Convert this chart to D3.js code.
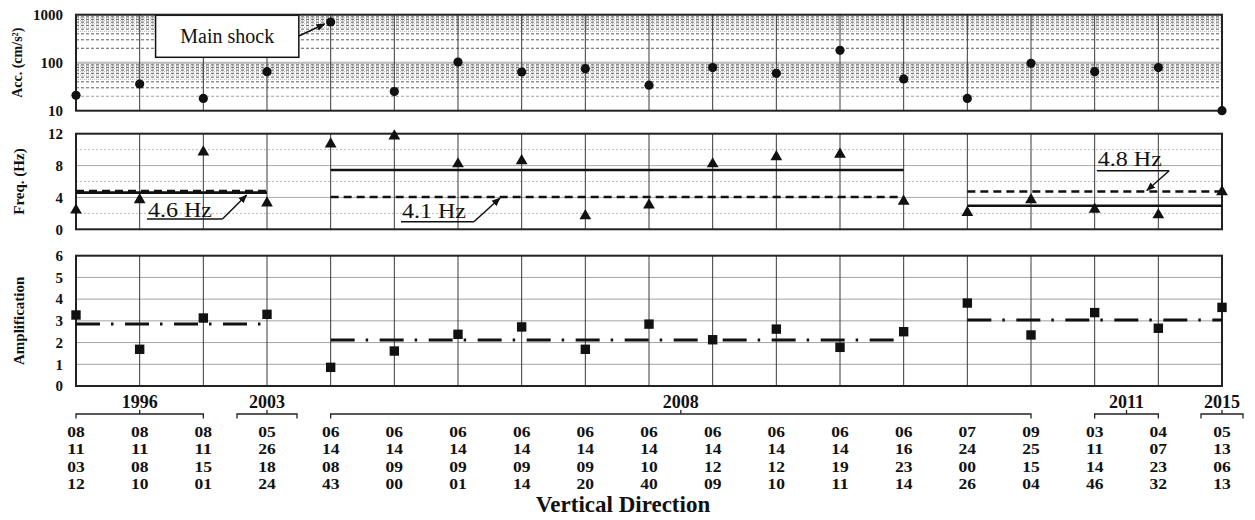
<!DOCTYPE html>
<html lang="en">
<head>
<meta charset="UTF-8">
<title>Vertical Direction</title>
<script src="https://d3js.org/d3.v7.min.js"></script>
<style>
    body { margin: 0; background: #fff; }
    svg text { font-family: "Liberation Serif", "Times New Roman", serif; fill: #111; }
    .tick text { font-weight: bold; font-size: 15px; }
    .axis-title { font-weight: bold; font-size: 15px; }
</style>
</head>
<body>
<div id="chart"></div>
<script>
// event time stamps (month / day / hour / minute)
const months  = ["08","08","08","05","06","06","06","06","06","06","06","06","06","06","07","09","03","04","05"];
const days    = ["11","11","11","26","14","14","14","14","14","14","14","14","14","16","24","25","11","07","13"];
const hours   = ["03","08","15","18","08","09","09","09","09","10","12","12","19","23","00","15","14","23","06"];
const minutes = ["12","10","01","24","43","00","01","14","20","40","09","10","11","14","26","04","46","32","13"];

// year brackets (first / last event index)
const yearLabels = ["1996", "2003", "2008", "2011", "2015"];
const yearFrom   = [0, 3, 4, 16, 18];
const yearTo     = [2, 3, 15, 17, 18];

// peak acceleration (cm/s2)
const acc  = [21, 36, 18, 65, 705, 25, 103, 64, 75, 34, 79, 60, 181, 46, 18, 97, 65, 79, 10];
// predominant frequency (Hz)
const freq = [2.4, 3.7, 9.7, 3.3, 10.7, 11.7, 8.2, 8.6, 1.7, 3.05, 8.2, 9.1, 9.4, 3.5, 2.1, 3.7, 2.5, 1.8, 4.7];
// amplification
const amp  = [3.27, 1.69, 3.13, 3.3, 0.86, 1.61, 2.38, 2.72, 1.69, 2.85, 2.13, 2.62, 1.78, 2.5, 3.82, 2.35, 3.38, 2.66, 3.62];

// period groups
const groupFrom = [0, 4, 14];
const groupTo   = [3, 13, 18];
const freqMean  = [4.6, 7.45, 2.96];
const freqRef   = [4.8, 4.05, 4.75];
const freqRefLabels = ["4.6 Hz", "4.1 Hz", "4.8 Hz"];
const ampMean   = [2.85, 2.12, 3.04];

const width = 1255, height = 520;
const left = 76, right = 1222;

const svg = d3.select("#chart").append("svg")
    .attr("width", width)
    .attr("height", height);

const defs = svg.append("defs");
defs.append("marker")
    .attr("id", "arrow")
    .attr("viewBox", "0 0 10 10")
    .attr("refX", 9).attr("refY", 5)
    .attr("markerWidth", 9).attr("markerHeight", 9)
    .attr("markerUnits", "userSpaceOnUse")
    .attr("orient", "auto")
    .append("path")
    .attr("d", "M0,1 L10,5 L0,9 Z")
    .attr("fill", "#111");

const x = d3.scaleLinear().domain([0, acc.length - 1]).range([left, right]);
const idx = d3.range(acc.length);

const yAcc  = d3.scaleLog().domain([10, 1000]).range([110.7, 14.7]);
const yFreq = d3.scaleLinear().domain([0, 12]).range([229.3, 133.7]);
const yAmp  = d3.scaleLinear().domain([0, 6]).range([386, 255.7]);

function hline(g, y, v, color, w, dash) {
    g.append("line")
        .attr("x1", left).attr("x2", right)
        .attr("y1", y(v)).attr("y2", y(v))
        .attr("stroke", color).attr("stroke-width", w)
        .attr("stroke-dasharray", dash || null);
}

function verticals(g, y) {
    const [y0, y1] = y.range();
    g.selectAll("line.v").data(idx.slice(1, -1)).join("line")
        .attr("class", "v")
        .attr("x1", d => x(d)).attr("x2", d => x(d))
        .attr("y1", y0).attr("y2", y1)
        .attr("stroke", "#3a3a3a").attr("stroke-width", 1);
}

function frame(g, y) {
    const [y0, y1] = y.range();
    g.append("rect")
        .attr("x", left).attr("y", y1)
        .attr("width", right - left).attr("height", y0 - y1)
        .attr("fill", "none").attr("stroke", "#222").attr("stroke-width", 2);
}

function yAxis(y, ticks, fmt) {
    svg.append("g")
        .attr("transform", `translate(${left},0)`)
        .call(d3.axisLeft(y).tickValues(ticks).tickSize(0).tickPadding(13).tickFormat(fmt))
        .call(g => g.select(".domain").remove());
}

function axisTitle(text, y) {
    const [y0, y1] = y.range();
    svg.append("text")
        .attr("class", "axis-title")
        .attr("transform", `translate(24,${(y0 + y1) / 2}) rotate(-90)`)
        .attr("text-anchor", "middle")
        .text(text);
}

// ---------- acceleration panel ----------
const gA = svg.append("g");
[10, 100].forEach(dec => {
    for (let k = 4.5; k < 10; k += 0.5) {
        if (k % 1 !== 0) hline(gA, yAcc, k * dec, "#999", 0.8, "1,1");
    }
    for (let k = 2; k <= 9; k++) {
        hline(gA, yAcc, k * dec, k === 2 && dec === 10 ? "#888" : "#333", 0.8, "3,2");
    }
});
hline(gA, yAcc, 100, "#bbb", 2);
verticals(gA, yAcc);

// main shock call-out
const boxX = x(1.25), boxW = x(3.5) - x(1.25);
gA.append("rect")
    .attr("x", boxX).attr("y", 15.3)
    .attr("width", boxW).attr("height", 42)
    .attr("fill", "#fff").attr("stroke", "#111").attr("stroke-width", 1.5);
gA.append("text")
    .attr("x", boxX + boxW / 2).attr("y", 43)
    .attr("text-anchor", "middle")
    .style("font-size", "20px")
    .text("Main shock");
gA.append("line")
    .attr("x1", boxX + boxW).attr("y1", 36)
    .attr("x2", x(4) - 6).attr("y2", yAcc(acc[4]) + 2)
    .attr("stroke", "#111").attr("stroke-width", 1.5)
    .attr("marker-end", "url(#arrow)");
frame(gA, yAcc);

gA.selectAll("circle").data(idx).join("circle")
    .attr("cx", d => x(d)).attr("cy", d => yAcc(acc[d]))
    .attr("r", 4.6).attr("fill", "#111");

yAxis(yAcc, [10, 100, 1000], d3.format("d"));
svg.append("text")
    .attr("class", "axis-title")
    .attr("transform", `translate(22,${(14.7 + 110.7) / 2}) rotate(-90)`)
    .attr("text-anchor", "middle")
    .style("font-size", "14px")
    .text("Acc. (cm/s²)");

// ---------- frequency panel ----------
const gF = svg.append("g");
[2, 6, 10].forEach(v => hline(gF, yFreq, v, "#bbb", 1, "2,2"));
[4, 8].forEach(v => hline(gF, yFreq, v, "#aaa", 1));
verticals(gF, yFreq);
frame(gF, yFreq);

groupFrom.forEach((f, i) => {
    gF.append("line")
        .attr("x1", x(f)).attr("x2", x(groupTo[i]))
        .attr("y1", yFreq(freqMean[i])).attr("y2", yFreq(freqMean[i]))
        .attr("stroke", "#111").attr("stroke-width", 2.6);
    gF.append("line")
        .attr("x1", x(f)).attr("x2", x(groupTo[i]))
        .attr("y1", yFreq(freqRef[i])).attr("y2", yFreq(freqRef[i]))
        .attr("stroke", "#111").attr("stroke-width", 2.6)
        .attr("stroke-dasharray", "8,5");
});

// reference value call-outs: text start, underline end, arrow tip (in event units)
const callouts = [
    {tx: 1.13, base: 216.7, uy: 219,   ux: 2.3,  tip: 2.68, dy: 4},
    {tx: 5.12, base: 218,   uy: 221.7, ux: 6.25, tip: 6.66, dy: 1},
    {tx: 16.05, base: 166,  uy: 170.7, ux: 17.17, tip: 16.82, dy: -1}
];
callouts.forEach((c, i) => {
    gF.append("text")
        .attr("x", x(c.tx)).attr("y", c.base)
        .attr("textLength", 64).attr("lengthAdjust", "spacingAndGlyphs")
        .style("font-size", "20px")
        .text(freqRefLabels[i]);
    gF.append("path")
        .attr("d", `M${x(c.tx) - 1},${c.uy} L${x(c.ux)},${c.uy}`)
        .attr("fill", "none").attr("stroke", "#111").attr("stroke-width", 1.5);
    gF.append("line")
        .attr("x1", x(c.ux)).attr("y1", c.uy)
        .attr("x2", x(c.tip)).attr("y2", yFreq(freqRef[i]) + c.dy)
        .attr("stroke", "#111").attr("stroke-width", 1.5)
        .attr("marker-end", "url(#arrow)");
});

gF.selectAll("path.tri").data(idx).join("path")
    .attr("class", "tri")
    .attr("transform", d => `translate(${x(d)},${yFreq(freq[d])})`)
    .attr("d", d3.symbol(d3.symbolTriangle, 60))
    .attr("fill", "#111");

yAxis(yFreq, [0, 4, 8, 12], d3.format("d"));
axisTitle("Freq. (Hz)", yFreq);

// ---------- amplification panel ----------
const gM = svg.append("g");
[1, 2, 3, 4, 5].forEach(v => hline(gM, yAmp, v, "#999", 0.9));
verticals(gM, yAmp);
frame(gM, yAmp);

groupFrom.forEach((f, i) => {
    gM.append("line")
        .attr("x1", x(f)).attr("x2", x(groupTo[i]))
        .attr("y1", yAmp(ampMean[i])).attr("y2", yAmp(ampMean[i]))
        .attr("stroke", "#111").attr("stroke-width", 3)
        .attr("stroke-dasharray", "24,11,2.5,11.5");
});

gM.selectAll("rect.sq").data(idx).join("rect")
    .attr("class", "sq")
    .attr("x", d => x(d) - 4.7).attr("y", d => yAmp(amp[d]) - 4.7)
    .attr("width", 9.4).attr("height", 9.4)
    .attr("fill", "#111");

yAxis(yAmp, [0, 1, 2, 3, 4, 5, 6], d3.format("d"));
axisTitle("Amplification", yAmp);

// ---------- date axis ----------
const gX = svg.append("g").style("font-weight", "bold");
yearLabels.forEach((lab, i) => {
    const a = yearFrom[i], b = yearTo[i];
    let x0 = x(a), x1 = x(b);
    if (a === b) { const hw = i === yearLabels.length - 1 ? 21 : 30; x0 -= hw; x1 += hw; }
    const xm = (x0 + x1) / 2;
    gX.append("path")
        .attr("d", `M${x0},418.5 L${x0},414 L${x1},414 L${x1},418.5 M${xm},414 L${xm},410`)
        .attr("fill", "none").attr("stroke", "#222").attr("stroke-width", 1.3);
    gX.append("text")
        .attr("x", xm).attr("y", 408)
        .attr("text-anchor", "middle")
        .style("font-size", "18px")
        .text(lab);
});

// one stacked label per event: month / day / hour / minute
[months, days, hours, minutes].forEach((row, r) => {
    gX.selectAll(`text.r${r}`).data(idx).join("text")
        .attr("class", `r${r}`)
        .attr("x", d => x(d))
        .attr("y", 437 + r * 17.3)
        .attr("text-anchor", "middle")
        .style("font-size", "15px")
        .attr("textLength", 17.5).attr("lengthAdjust", "spacingAndGlyphs")
        .text(d => row[d]);
});

svg.append("text")
    .attr("x", 623).attr("y", 512)
    .attr("text-anchor", "middle")
    .style("font-weight", "bold").style("font-size", "23px")
    .text("Vertical Direction");
</script>
</body>
</html>
